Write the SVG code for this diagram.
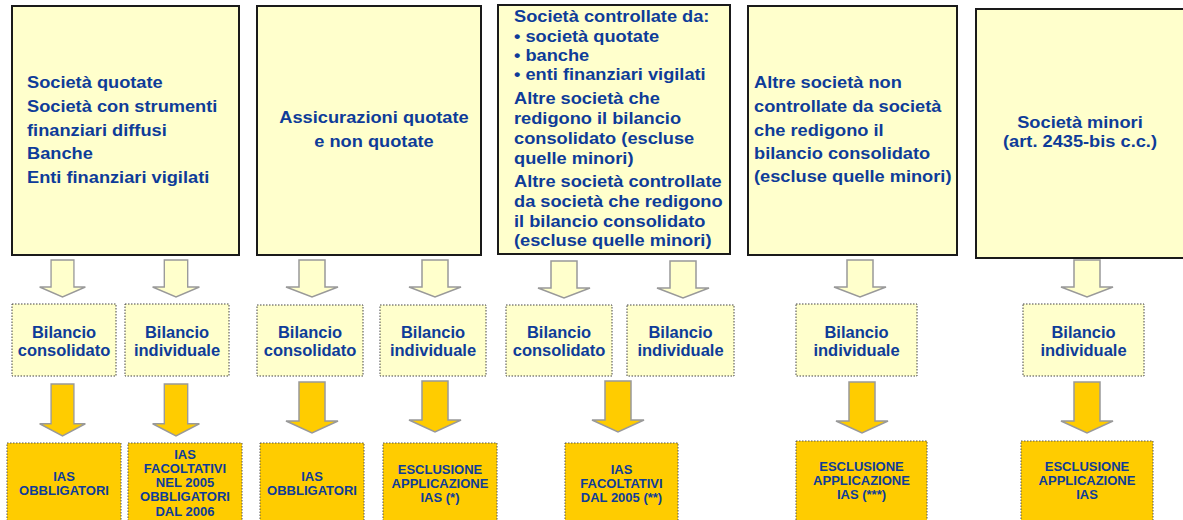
<svg xmlns="http://www.w3.org/2000/svg" xmlns:xlink="http://www.w3.org/1999/xlink" width="1183" height="520" viewBox="0 0 1183 520">
<style>
.top{fill:#FFFFCC;stroke:#1a1a1a;stroke-width:2}
.mid{fill:#FFFFCC;stroke:#444;stroke-width:1;stroke-dasharray:1.5 1.5}
.bot{fill:#FFCC00;stroke:#555;stroke-width:1;stroke-dasharray:1.5 1.5}
.la{fill:#FFFFCC;stroke:#999;stroke-width:1.5}
.ya{fill:#FFCC00;stroke:#999;stroke-width:1.5}
text{font-family:"Liberation Sans",Arial,sans-serif;font-weight:bold;fill:#0E3C99}
.t{font-size:16px}
.m{font-size:16.5px;text-anchor:middle}
.b{font-size:13px;text-anchor:middle}
.c{text-anchor:middle}
</style>
<defs>
<path id="lightArrow" d="M-13,0 H13 V27 H26 L0,37 L-26,27 H-13 Z"/>
<path id="yellowArrow" d="M-13,0 H13 V39 H26 L0,51 L-26,39 H-13 Z"/>
</defs>
<rect width="1183" height="520" fill="#FFFFFF"/>

<g id="connectors">
<use href="#lightArrow" class="la" transform="translate(62.5,260) scale(0.88,1)"/>
<use href="#lightArrow" class="la" transform="translate(176,260) scale(0.9,1)"/>
<use href="#lightArrow" class="la" transform="translate(312,260)"/>
<use href="#lightArrow" class="la" transform="translate(435,260)"/>
<use href="#lightArrow" class="la" transform="translate(564,261)"/>
<use href="#lightArrow" class="la" transform="translate(683,261)"/>
<use href="#lightArrow" class="la" transform="translate(860,260)"/>
<use href="#lightArrow" class="la" transform="translate(1087,260)"/>
<use href="#yellowArrow" class="ya" transform="translate(62.5,384) scale(0.88,1.02)"/>
<use href="#yellowArrow" class="ya" transform="translate(176,384) scale(0.9,1.02)"/>
<use href="#yellowArrow" class="ya" transform="translate(312,382)"/>
<use href="#yellowArrow" class="ya" transform="translate(435,381)"/>
<use href="#yellowArrow" class="ya" transform="translate(618,381)"/>
<use href="#yellowArrow" class="ya" transform="translate(862,382)"/>
<use href="#yellowArrow" class="ya" transform="translate(1087,382)"/>
</g>

<g id="top1">
<rect class="top" x="12" y="6" width="227" height="249"/>
<g transform="translate(27,0) scale(1.14,1)">
<text class="t" x="0" y="88">Società quotate</text>
<text class="t" x="0" y="112">Società con strumenti</text>
<text class="t" x="0" y="136">finanziari diffusi</text>
<text class="t" x="0" y="159">Banche</text>
<text class="t" x="0" y="183">Enti finanziari vigilati</text>
</g>
</g>

<g id="top2">
<rect class="top" x="257" y="6" width="224" height="249"/>
<g transform="translate(374,0) scale(1.14,1)">
<text class="t c" x="0" y="123">Assicurazioni quotate</text>
<text class="t c" x="0" y="147">e non quotate</text>
</g>
</g>

<g id="top3">
<rect class="top" x="498" y="5" width="232" height="249"/>
<g transform="translate(514,0) scale(1.14,1)">
<text class="t" x="0" y="22">Società controllate da:</text>
<text class="t" x="0" y="42">• società quotate</text>
<text class="t" x="0" y="61">• banche</text>
<text class="t" x="0" y="80">• enti finanziari vigilati</text>
<text class="t" x="0" y="104">Altre società che</text>
<text class="t" x="0" y="124">redigono il bilancio</text>
<text class="t" x="0" y="144">consolidato (escluse</text>
<text class="t" x="0" y="164">quelle minori)</text>
<text class="t" x="0" y="187">Altre società controllate</text>
<text class="t" x="0" y="207">da società che redigono</text>
<text class="t" x="0" y="227">il bilancio consolidato</text>
<text class="t" x="0" y="246">(escluse quelle minori)</text>
</g>
</g>

<g id="top4">
<rect class="top" x="748" y="6" width="209" height="249"/>
<g transform="translate(754,0) scale(1.14,1)">
<text class="t" x="0" y="88">Altre società non</text>
<text class="t" x="0" y="112">controllate da società</text>
<text class="t" x="0" y="136">che redigono il</text>
<text class="t" x="0" y="159">bilancio consolidato</text>
<text class="t" x="0" y="182">(escluse quelle minori)</text>
</g>
</g>

<g id="top5">
<rect class="top" x="976" y="9" width="220" height="249"/>
<g transform="translate(1080,0) scale(1.14,1)">
<text class="t c" x="0" y="128">Società minori</text>
<text class="t c" x="0" y="147">(art. 2435-bis c.c.)</text>
</g>
</g>

<g id="mid1"><rect class="mid" x="12" y="304" width="104" height="72"/><text class="m" x="64" y="338">Bilancio</text><text class="m" x="64" y="356">consolidato</text></g>
<g id="mid2"><rect class="mid" x="125" y="304" width="104" height="72"/><text class="m" x="177" y="338">Bilancio</text><text class="m" x="177" y="356">individuale</text></g>
<g id="mid3"><rect class="mid" x="257" y="305" width="106" height="71"/><text class="m" x="310" y="338">Bilancio</text><text class="m" x="310" y="356">consolidato</text></g>
<g id="mid4"><rect class="mid" x="380" y="305" width="106" height="71"/><text class="m" x="433" y="338">Bilancio</text><text class="m" x="433" y="356">individuale</text></g>
<g id="mid5"><rect class="mid" x="506" y="305" width="106" height="71"/><text class="m" x="559" y="338">Bilancio</text><text class="m" x="559" y="356">consolidato</text></g>
<g id="mid6"><rect class="mid" x="627" y="305" width="107" height="71"/><text class="m" x="680.5" y="338">Bilancio</text><text class="m" x="680.5" y="356">individuale</text></g>
<g id="mid7"><rect class="mid" x="796" y="304" width="121" height="72"/><text class="m" x="856.5" y="338">Bilancio</text><text class="m" x="856.5" y="356">individuale</text></g>
<g id="mid8"><rect class="mid" x="1023" y="304" width="121" height="72"/><text class="m" x="1083.5" y="338">Bilancio</text><text class="m" x="1083.5" y="356">individuale</text></g>

<g id="bot1"><rect class="bot" x="7" y="443" width="114" height="90"/><text class="b" x="64" y="481">IAS</text><text class="b" x="64" y="495">OBBLIGATORI</text></g>
<g id="bot2"><rect class="bot" x="128" y="443" width="114" height="90"/><text class="b" x="185" y="459">IAS</text><text class="b" x="185" y="473">FACOLTATIVI</text><text class="b" x="185" y="487">NEL 2005</text><text class="b" x="185" y="501">OBBLIGATORI</text><text class="b" x="185" y="516">DAL 2006</text></g>
<g id="bot3"><rect class="bot" x="260" y="443" width="104" height="90"/><text class="b" x="312" y="481">IAS</text><text class="b" x="312" y="495">OBBLIGATORI</text></g>
<g id="bot4"><rect class="bot" x="383" y="443" width="114" height="90"/><text class="b" x="440" y="474">ESCLUSIONE</text><text class="b" x="440" y="488">APPLICAZIONE</text><text class="b" x="440" y="502">IAS (*)</text></g>
<g id="bot5"><rect class="bot" x="565" y="443" width="113" height="90"/><text class="b" x="621.5" y="474">IAS</text><text class="b" x="621.5" y="488">FACOLTATIVI</text><text class="b" x="621.5" y="502">DAL 2005 (**)</text></g>
<g id="bot6"><rect class="bot" x="796" y="441" width="131" height="90"/><text class="b" x="861.5" y="471">ESCLUSIONE</text><text class="b" x="861.5" y="485">APPLICAZIONE</text><text class="b" x="861.5" y="499">IAS (***)</text></g>
<g id="bot7"><rect class="bot" x="1021" y="441" width="132" height="90"/><text class="b" x="1087" y="471">ESCLUSIONE</text><text class="b" x="1087" y="485">APPLICAZIONE</text><text class="b" x="1087" y="499">IAS</text></g>
</svg>
